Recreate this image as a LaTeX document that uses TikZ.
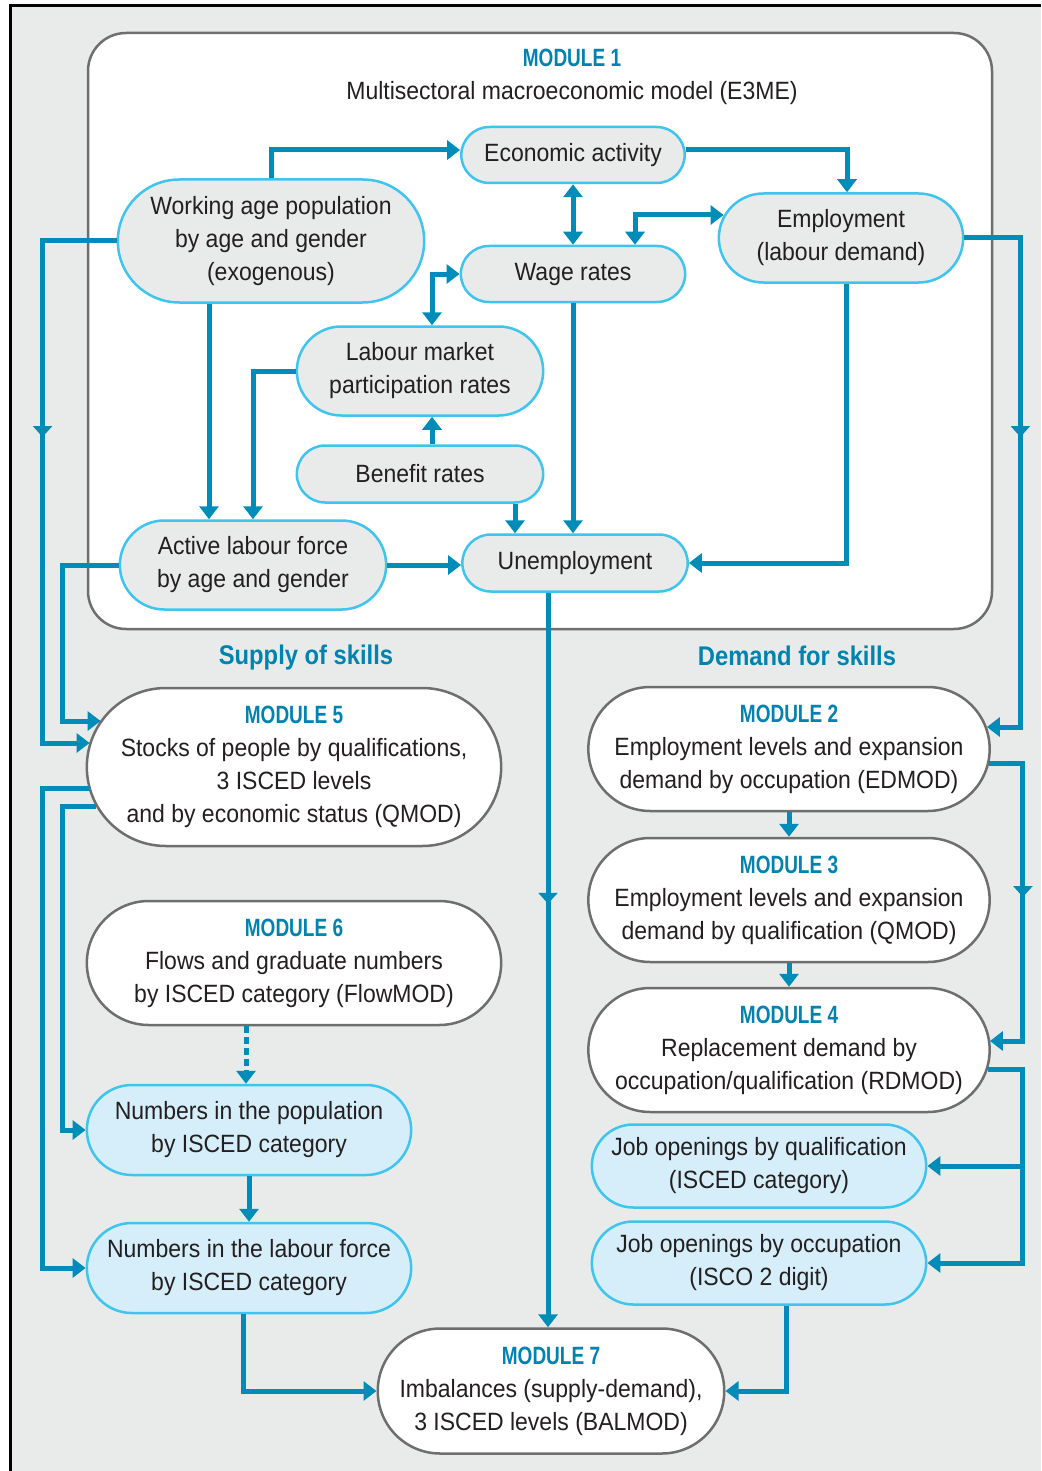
\documentclass[tikz,border=0pt]{standalone}
\usepackage{fontspec}
\setmainfont{Liberation Sans}[FakeStretch=0.92]
\newfontfamily\headfont{Liberation Sans}[FakeStretch=0.76]
\newfontfamily\sidefont{Liberation Sans}[FakeStretch=0.88]
\usetikzlibrary{shapes.misc, arrows.meta, calc, decorations.markings}
\definecolor{linkblue}{RGB}{0,140,185}
\definecolor{cyanline}{RGB}{62,196,238}
\definecolor{greyfill}{RGB}{233,235,234}
\definecolor{paleblue}{RGB}{214,238,249}
\definecolor{headblue}{RGB}{0,131,176}
\definecolor{framegrey}{RGB}{110,110,110}
\definecolor{textcol}{RGB}{35,31,32}
\newcommand{\modhead}[1]{{\headfont\bfseries\color{headblue}#1}}

\begin{document}
\begin{tikzpicture}[x=1pt, y=-1pt, font=\fontsize{25}{33}\selectfont,
    core/.style={rounded rectangle, draw=cyanline, line width=2.5pt, fill=greyfill, text=textcol, align=center},
    module/.style={rounded rectangle, draw=framegrey, line width=2.5pt, fill=white, text=textcol, align=center, minimum height=124pt},
    resultbox/.style={rounded rectangle, draw=cyanline, line width=2.5pt, fill=paleblue, text=textcol, align=center},
    link/.style={draw, color=linkblue, line width=5pt, -{Triangle[length=13pt,width=19pt]}},
    twoway/.style={draw, color=linkblue, line width=5pt, {Triangle[length=13pt,width=19pt]}-{Triangle[length=13pt,width=19pt]}},
    midarrow/.style={postaction={decorate, decoration={markings, mark=at position #1 with {\arrow{Triangle[length=11pt,width=19pt]}}}}}
]
    \useasboundingbox (0,0) rectangle (1041,1471);
    % Background and frame
    \fill[white] (0,0) rectangle (1041,1471);
    \fill[greyfill] (10,6) rectangle (1041,1471);
    \draw[line width=3pt] (10,1471) -- (10,6) -- (1041,6);

    % Module 1: macroeconomic model
    \node[draw=framegrey, fill=white, line width=2.5pt, rounded corners=38pt, minimum width=904pt, minimum height=596pt] (m1) at (540,331) {};
    \node[align=center, text=textcol] (m1title) at (572,77) {\modhead{MODULE 1}\\Multisectoral macroeconomic model (E3ME)};

    \node[core, minimum width=230pt, minimum height=56pt] (eco) at (573,155) {Economic activity};
    \node[core, minimum width=313pt, minimum height=123pt] (wap) at (271,241) {Working age population\\by age and gender\\(exogenous)};
    \node[core, minimum width=231pt, minimum height=56pt] (wage) at (573,274) {Wage rates};
    \node[core, minimum width=251pt, minimum height=89pt] (empl) at (841,238) {Employment\\(labour demand)};
    \node[core, minimum width=253pt, minimum height=89pt] (lmp) at (420,371) {Labour market\\participation rates};
    \node[core, minimum width=253pt, minimum height=57pt] (ben) at (420,474) {Benefit rates};
    \node[core, minimum width=273pt, minimum height=89pt] (alf) at (253,565) {Active labour force\\by age and gender};
    \node[core, minimum width=232pt, minimum height=57pt] (unemp) at (575,563) {Unemployment};

    % Side headings
    \node[text=headblue, font=\fontsize{27}{33}\selectfont] (supply) at (306,658) {\sidefont\bfseries Supply of skills};
    \node[text=headblue, font=\fontsize{27}{33}\selectfont] (demand) at (797,656) {\sidefont\bfseries Demand for skills};

    % Supply side
    \node[module, minimum width=421pt, minimum height=158pt] (m5) at (294,767) {\modhead{MODULE 5}\\Stocks of people by qualifications,\\3 ISCED levels\\and by economic status (QMOD)};
    \node[module, minimum width=421pt] (m6) at (294,963) {\modhead{MODULE 6}\\Flows and graduate numbers\\by ISCED category (FlowMOD)};
    \node[resultbox, minimum width=331pt, minimum height=90pt] (npop) at (249,1130) {Numbers in the population\\by ISCED category};
    \node[resultbox, minimum width=331pt, minimum height=90pt] (nlf) at (249,1268) {Numbers in the labour force\\by ISCED category};

    % Demand side
    \node[module, minimum width=408pt] (m2) at (789,749) {\modhead{MODULE 2}\\Employment levels and expansion\\demand by occupation (EDMOD)};
    \node[module, minimum width=408pt] (m3) at (789,900) {\modhead{MODULE 3}\\Employment levels and expansion\\demand by qualification (QMOD)};
    \node[module, minimum width=408pt] (m4) at (789,1050) {\modhead{MODULE 4}\\Replacement demand by\\occupation/qualification (RDMOD)};
    \node[resultbox, minimum width=341pt, minimum height=83pt] (joq) at (759,1166) {Job openings by qualification\\(ISCED category)};
    \node[resultbox, minimum width=341pt, minimum height=83pt] (joo) at (759,1263) {Job openings by occupation\\(ISCO 2 digit)};

    % Bottom: balance
    \node[module, minimum width=342pt, minimum height=125pt] (m7) at (551,1391) {\modhead{MODULE 7}\\Imbalances (supply-demand),\\3 ISCED levels (BALMOD)};

    % Links inside module 1
    \draw[link] (wap.north) |- ($(eco.west)+(0,-5)$);
    \draw[link] ($(eco.east)+(0,-5)$) -| ($(empl.north)+(6,0)$);
    \draw[twoway] (eco.south) -- (wage.north);
    \draw[twoway] ($(wage.north)+(62,0)$) |- ($(empl.west)+(6,-23)$);
    \draw[twoway] (wage.west) -| ($(lmp.north)+(12,0)$);
    \draw[link] ($(wap.south)+(-62,0)$) -- ($(alf.north)+(-44,0)$);
    \draw[link] (lmp.west) -| (alf.north);
    \draw[link] ($(ben.north)+(12,0)$) -- ($(lmp.south)+(12,0)$);
    \draw[link] ($(ben.south)+(95,0)$) -- ($(unemp.north)+(-60,0)$);
    \draw[link] (wage.south) -- (wage.south |- unemp.north);
    \draw[link] ($(empl.south)+(5,0)$) |- (unemp.east);
    \draw[link] (alf.east) -- (alf.east -| unemp.west);

    % Links out of module 1
    \draw[link, midarrow=270pt] (wap.west) -- ++(-74,0) |- ($(m5.west)+(4,-24)$);
    \draw[link, midarrow=255pt] (empl.east) -- ++(56,0) |- ($(m2.east)+(-4,-22)$);
    \draw[link] (alf.west) -- ++(-56,0) |- ($(m5.west)+(15,-46)$);
    \draw[link, midarrow=311pt] ($(unemp.south)+(-27,0)$) -- ($(m7.north)+(-3,0)$);

    % Supply links
    \draw[link] ($(m5.west)+(3,21)$) -- ++(-46,0) |- (nlf.west);
    \draw[link] ($(m5.west)+(10,39)$) -- ++(-33,0) |- (npop.west);
    \draw[link, dash pattern=on 7pt off 4pt] ($(m6.south)+(-48,0)$) -- ($(npop.north)+(-3,0)$);
    \draw[link] (npop.south) -- (nlf.north);
    \draw[link] ($(nlf.south)+(-6,0)$) |- (m7.west);

    % Demand links
    \draw[link] (m2.south) -- (m3.north);
    \draw[link] (m3.south) -- (m4.north);
    \draw[link, midarrow=168pt] ($(m2.east)+(-2,14)$) -- ++(34,0) |- ($(m4.east)+(-1,-9)$);
    \draw[link] ($(m4.east)+(-3,19)$) -- ++(35,0) |- (joq.east);
    \draw[link] ($(m4.east)+(-3,19)$) -- ++(35,0) |- (joo.east);
    \draw[link] ($(joo.south)+(27,0)$) |- (m7.east);
\end{tikzpicture}
\end{document}
